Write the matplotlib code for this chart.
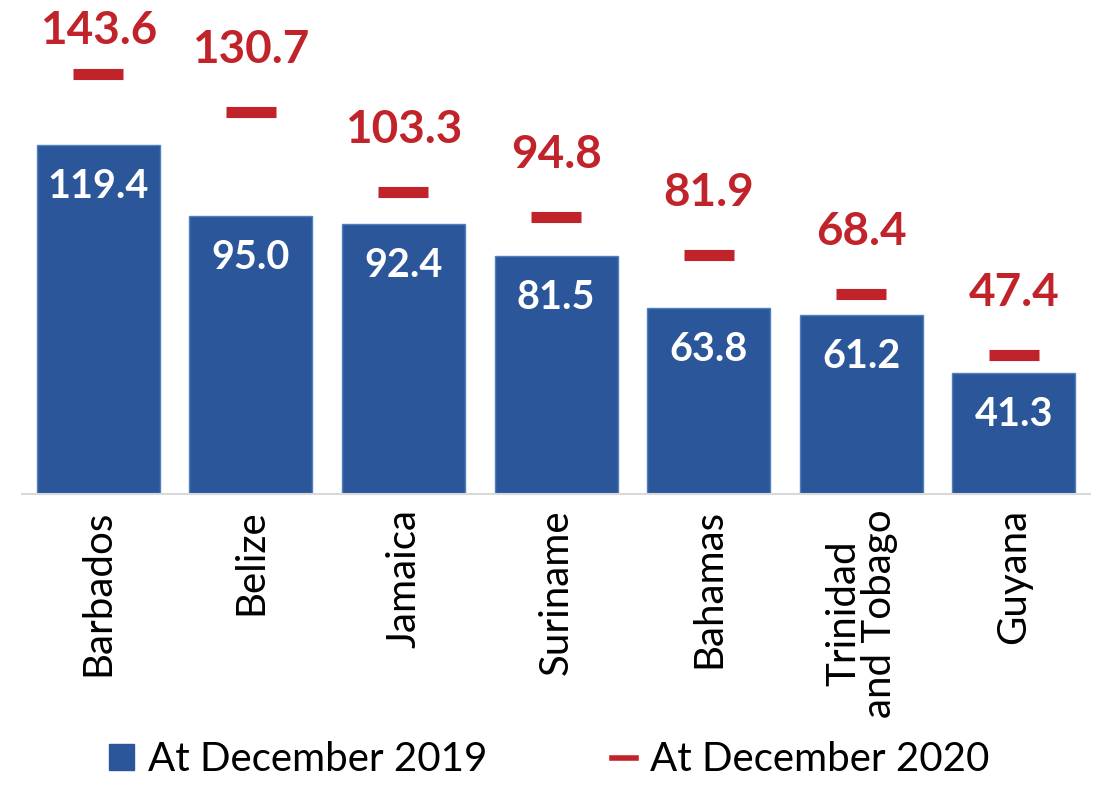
import matplotlib
matplotlib.use("Agg")
import matplotlib.pyplot as plt
from matplotlib.patches import Patch
from matplotlib.lines import Line2D

categories = ["Barbados", "Belize", "Jamaica", "Suriname", "Bahamas",
              "Trinidad\nand Tobago", "Guyana"]
dec2019 = [119.4, 95.0, 92.4, 81.5, 63.8, 61.2, 41.3]
dec2020 = [143.6, 130.7, 103.3, 94.8, 81.9, 68.4, 47.4]
legend_labels = ["At December 2019", "At December 2020"]

BLUE = "#2B579A"
RED = "#C1232B"
plt.rcParams['font.family'] = ['Lato', 'DejaVu Sans']

fig = plt.figure(figsize=(10.99, 7.85), dpi=100)
ax = fig.add_axes([0.02, 0.3707, 0.972, 0.6293])

x = list(range(len(categories)))
ax.bar(x, dec2019, width=0.807, color=BLUE, edgecolor="#4F81BD", linewidth=1.0, zorder=2)
ax.plot(x, dec2020, linestyle="none", marker="_", markersize=36,
        markeredgewidth=8, color=RED, zorder=3)

ymax = 169.0
ax.set_ylim(0, ymax)
ax.set_xlim(-0.5, len(categories) - 0.5)

for xi, v in zip(x, dec2019):
    ax.annotate(f"{v:.1f}", (xi, v), xytext=(0, -30), textcoords="offset points",
                ha="center", va="center", color="white", fontsize=28.5,
                fontweight="bold")

for xi, v in zip(x, dec2020):
    ytxt = min(v + 21.2, ymax - 10.5)
    ax.text(xi, ytxt, f"{v:.1f}", ha="center", va="center", color=RED,
            fontsize=33, fontweight="bold", clip_on=False)

ax.set_xticks(x)
ax.set_xticklabels(categories, rotation=90, fontsize=29, va="top", ha="center",
                   linespacing=0.95)
ax.tick_params(axis="x", length=0, pad=11)
ax.set_yticks([])
for s in ["top", "right", "left"]:
    ax.spines[s].set_visible(False)
ax.spines["bottom"].set_color("#D9D9D9")
ax.spines["bottom"].set_linewidth(1.5)

handles = [Patch(facecolor=BLUE, edgecolor=BLUE),
           Line2D([0], [0], color=RED, linewidth=4)]
fig.legend(handles, legend_labels, loc="lower center", bbox_to_anchor=(0.5, -0.012),
           ncol=2, frameon=False, fontsize=29, handlelength=0.6, handleheight=0.6,
           handletextpad=0.35, columnspacing=3.1, borderaxespad=0.0)

fig.savefig("out.png", dpi=100)
